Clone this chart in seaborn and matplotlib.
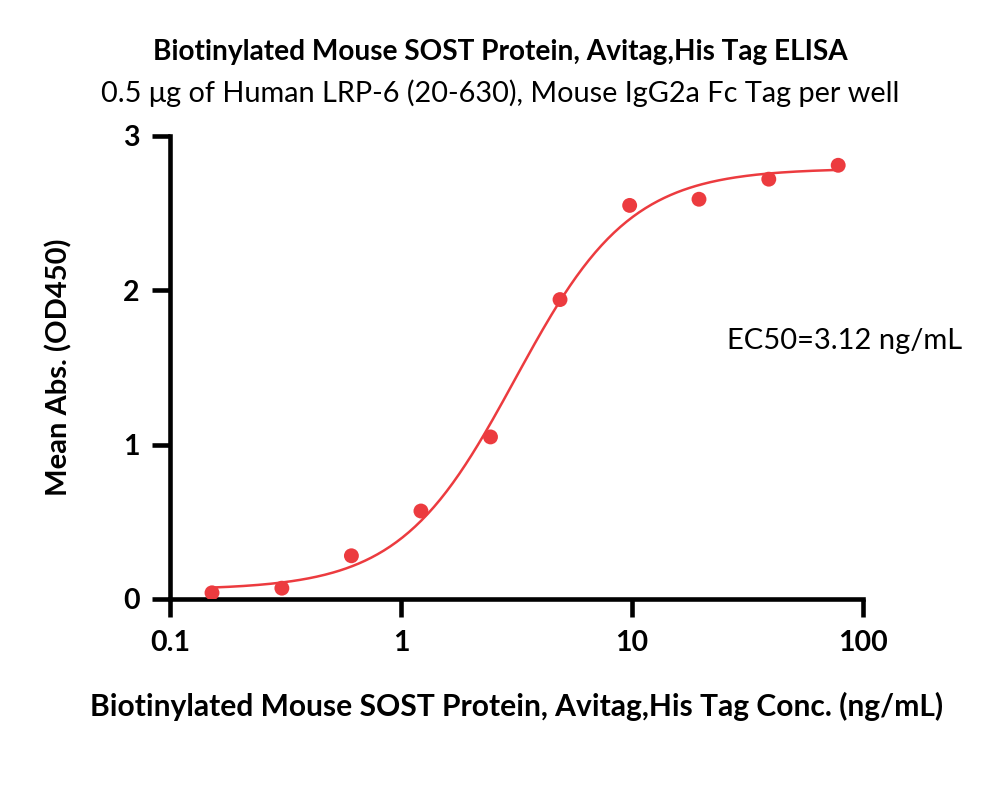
import numpy as np
import pandas as pd
import matplotlib
matplotlib.use("Agg")
import matplotlib.pyplot as plt
import seaborn as sns

# Concentrations (ng/mL) and mean absorbance
conc = [0.152, 0.305, 0.61, 1.22, 2.44, 4.88, 9.77, 19.5, 39.1, 78.1]
od450 = [0.04, 0.07, 0.28, 0.57, 1.05, 1.94, 2.55, 2.59, 2.72, 2.81]

# 4PL fit parameters (estimated from the drawn curve)
bottom = 0.06
top = 2.79
ec50 = 3.12
hill = 1.74

title = "Biotinylated Mouse SOST Protein, Avitag,His Tag ELISA"
subtitle = "0.5 \u03bcg of Human LRP-6 (20-630), Mouse IgG2a Fc Tag per well"
xlabel = "Biotinylated Mouse SOST Protein, Avitag,His Tag Conc. (ng/mL)"
ylabel = "Mean Abs. (OD450)"

red = "#EC3B3F"

sns.set_style("ticks", {"axes.edgecolor": "black", "text.color": "black",
                        "xtick.color": "black", "ytick.color": "black",
                        "axes.labelcolor": "black"})
plt.rcParams["font.family"] = ["Lato", "DejaVu Sans"]

points = pd.DataFrame({"conc": conc, "od": od450})
xfit = np.logspace(np.log10(conc[0]), np.log10(conc[-1]), 300)
yfit = bottom + (top - bottom) / (1 + (ec50 / xfit) ** hill)
curve = pd.DataFrame({"conc": xfit, "od": yfit})

fig = plt.figure(figsize=(10, 7.96), dpi=100)
ax = fig.add_axes([0.17, 0.2475, 0.693, 0.5817])

sns.lineplot(data=curve, x="conc", y="od", color=red, linewidth=1.8, ax=ax)
sns.scatterplot(data=points, x="conc", y="od", color=red, s=115,
                edgecolor="none", ax=ax, zorder=3)

ax.set_xscale("log")
ax.set_xlim(0.1, 100)
ax.set_ylim(0, 3)
ax.set_xticks([0.1, 1, 10, 100])
ax.set_xticklabels(["0.1", "1", "10", "100"])
ax.set_yticks([0, 1, 2, 3])
ax.minorticks_off()

for side in ["top", "right"]:
    ax.spines[side].set_visible(False)
for side in ["left", "bottom"]:
    ax.spines[side].set_linewidth(3.3)
ax.tick_params(length=13, width=3.3, labelsize=20.5, pad=9)
for lab in ax.get_xticklabels() + ax.get_yticklabels():
    lab.set_fontweight("bold")

ax.set_xlabel(xlabel, fontsize=21.6, fontweight="bold", labelpad=26)
ax.set_ylabel(ylabel, fontsize=21, fontweight="bold", labelpad=36)

ax.text(25.8, 1.67, "EC50=3.12 ng/mL", fontsize=21, va="center", ha="left")

fig.text(0.5, 0.935, title, fontsize=20.2, fontweight="bold", ha="center", va="center")
fig.text(0.5, 0.883, subtitle, fontsize=20.8, ha="center", va="center")

fig.savefig("out.png", dpi=100)
